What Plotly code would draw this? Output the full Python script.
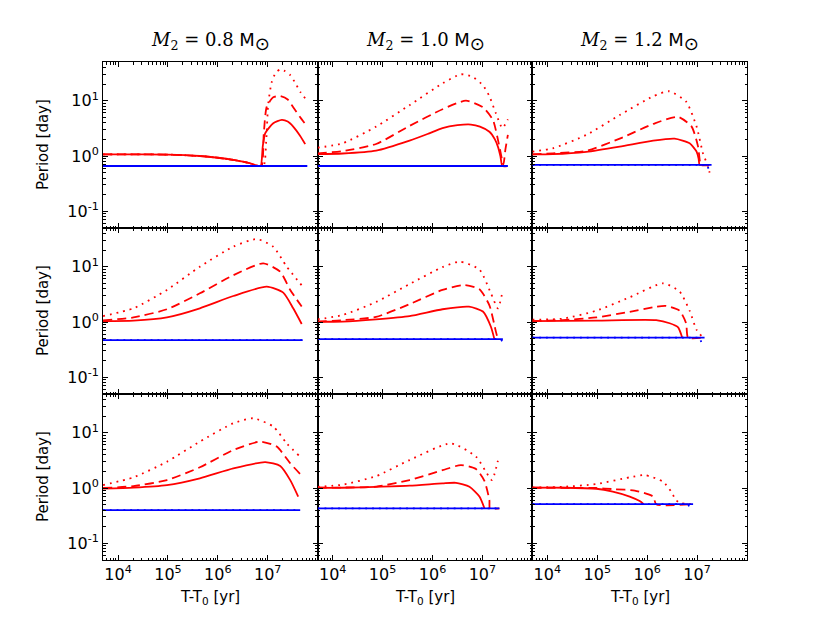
import numpy as np
import plotly.graph_objects as go
from plotly.subplots import make_subplots

# each curve: list of (log10(T-T0 [yr]), period [day])
masses = ["0.8", "1.0", "1.2"]
x_ticks = [1e4, 1e5, 1e6, 1e7]
x_labels = ["10<sup>4</sup>", "10<sup>5</sup>", "10<sup>6</sup>", "10<sup>7</sup>"]
y_ticks = [0.1, 1, 10]
y_labels = ["10<sup>-1</sup>", "10<sup>0</sup>", "10<sup>1</sup>"]

# top row
r1c1_solid = [(3.70, 1.07), (4.5, 1.07), (5.0, 1.06), (5.64, 1.0), (6.0, 0.93), (6.31, 0.85), (6.64, 0.74),
              (6.81, 0.66), (6.86, 0.66), (6.90, 1.5), (6.95, 2.6), (7.11, 3.9), (7.28, 4.5), (7.40, 4.2),
              (7.51, 3.4), (7.65, 2.3), (7.75, 1.64)]
r1c1_dash = [(3.70, 1.07), (4.5, 1.07), (5.0, 1.06), (5.64, 1.0), (6.0, 0.93), (6.31, 0.85), (6.64, 0.74),
             (6.81, 0.66), (6.88, 0.68), (6.92, 2.5), (6.98, 7.8), (7.11, 11.5), (7.25, 12.1), (7.40, 10.5),
             (7.51, 7.6), (7.65, 5.0), (7.78, 3.5)]
r1c1_dot = [(3.70, 1.07), (4.5, 1.07), (5.0, 1.06), (5.64, 1.0), (6.0, 0.93), (6.31, 0.85), (6.64, 0.74),
            (6.81, 0.66), (6.92, 0.68), (6.97, 1.95), (7.01, 8.9), (7.08, 21.8), (7.16, 32), (7.25, 36.8),
            (7.35, 34), (7.45, 29), (7.55, 21), (7.65, 14.5), (7.78, 10.2)]
r1c1_blue = [(3.70, 0.66), (7.79, 0.66)]
r1c1_tail = [(3.70, 0.66), (7.79, 0.66)]

r1c2_solid = [(3.70, 1.08), (4.20, 1.11), (4.87, 1.25), (5.54, 1.9), (5.9, 2.5), (6.20, 3.2), (6.5, 3.6),
              (6.77, 3.7), (6.95, 3.4), (7.14, 2.75), (7.25, 2.0), (7.31, 1.48), (7.36, 1.0), (7.40, 0.66),
              (7.50, 0.66)]
r1c2_dash = [(3.70, 1.12), (4.20, 1.23), (4.87, 1.65), (5.54, 3.5), (6.20, 7.0), (6.67, 10), (7.01, 7.6),
             (7.21, 4.5), (7.34, 1.48), (7.42, 0.7), (7.46, 1.3), (7.51, 2.4)]
r1c2_dot = [(3.70, 1.41), (4.20, 1.7), (4.87, 3.4), (5.54, 8.3), (6.20, 20.5), (6.57, 30), (6.8, 27),
            (7.01, 19), (7.14, 12), (7.27, 5.9), (7.40, 3.2), (7.51, 4.6)]
r1c2_blue = [(3.70, 0.66), (7.51, 0.66)]
r1c2_tail = [(3.70, 0.66), (7.51, 0.66)]

r1c3_solid = [(3.70, 1.07), (4.11, 1.08), (4.78, 1.19), (5.45, 1.48), (6.12, 1.9), (6.55, 2.06), (6.85, 1.7),
              (6.95, 1.35), (6.99, 1.2), (7.03, 0.9), (7.05, 0.69), (7.10, 0.69)]
r1c3_dash = [(3.70, 1.07), (4.11, 1.12), (4.78, 1.24), (5.45, 2.06), (6.12, 3.8), (6.62, 5.1), (6.89, 3.4),
             (7.02, 1.48), (7.08, 0.69), (7.25, 0.69)]
r1c3_dot = [(3.70, 1.2), (4.11, 1.38), (4.78, 2.4), (5.45, 5.5), (6.12, 12), (6.44, 14.8), (6.78, 9.6),
            (6.99, 3.4), (7.12, 1.1), (7.22, 0.65), (7.25, 0.5)]
r1c3_blue = [(3.70, 0.69), (7.29, 0.69)]
r1c3_tail = [(3.70, 0.69), (7.20, 0.69), (7.26, 0.5)]

# middle row
r2c1_solid = [(3.70, 1.04), (4.31, 1.06), (4.98, 1.21), (5.64, 1.77), (6.31, 2.95), (6.98, 4.35), (7.31, 3.4),
              (7.51, 1.77), (7.68, 0.92)]
r2c1_dash = [(3.70, 1.07), (4.31, 1.21), (4.98, 1.7), (5.64, 3.3), (6.31, 7.0), (6.91, 11.5), (7.25, 8.1),
             (7.45, 3.8), (7.68, 1.9)]
r2c1_dot = [(3.70, 1.28), (4.31, 1.77), (4.98, 3.8), (5.64, 10), (6.31, 23), (6.78, 31.5), (7.11, 23),
            (7.38, 10), (7.69, 4.5)]
r2c1_blue = [(3.70, 0.47), (7.70, 0.47)]
r2c1_tail = [(3.70, 0.47), (7.70, 0.47)]

r2c2_solid = [(3.70, 1.01), (4.20, 1.02), (4.87, 1.12), (5.54, 1.28), (6.20, 1.7), (6.73, 1.89), (7.01, 1.55),
              (7.17, 0.82), (7.24, 0.49)]
r2c2_dash = [(3.70, 1.01), (4.20, 1.08), (4.87, 1.24), (5.54, 2.1), (6.20, 3.8), (6.64, 4.65), (6.94, 3.9),
             (7.14, 2.0), (7.27, 0.67), (7.31, 0.49)]
r2c2_dot = [(3.70, 1.12), (4.20, 1.34), (4.87, 2.3), (5.54, 4.85), (6.20, 9.8), (6.54, 12.3), (6.94, 8.9),
            (7.17, 3.3), (7.31, 1.77), (7.41, 3.8)]
r2c2_blue = [(3.70, 0.49), (7.41, 0.49)]
r2c2_tail = [(3.70, 0.49), (7.36, 0.49), (7.41, 0.44)]

r2c3_solid = [(3.70, 1.04), (4.98, 1.06), (6.18, 1.08), (6.45, 0.95), (6.62, 0.8), (6.68, 0.6), (6.70, 0.52)]
r2c3_dash = [(3.70, 1.04), (4.31, 1.08), (4.98, 1.21), (5.65, 1.53), (6.18, 1.89), (6.38, 1.95), (6.65, 1.6),
             (6.78, 0.95), (6.82, 0.52), (7.12, 0.52)]
r2c3_dot = [(3.70, 1.1), (4.31, 1.15), (4.98, 1.6), (5.65, 2.8), (6.32, 5.0), (6.65, 3.55), (6.85, 1.6),
            (6.99, 0.72), (7.12, 0.52)]
r2c3_blue = [(3.70, 0.52), (7.15, 0.52)]
r2c3_tail = [(3.70, 0.52), (7.05, 0.52), (7.11, 0.38)]

# bottom row
r3c1_solid = [(3.70, 0.98), (4.31, 1.02), (4.98, 1.13), (5.64, 1.5), (6.31, 2.26), (6.95, 2.94), (7.25, 2.5),
              (7.45, 1.39), (7.61, 0.70)]
r3c1_dash = [(3.70, 1.0), (4.31, 1.08), (4.98, 1.39), (5.64, 2.37), (6.31, 4.85), (6.85, 6.9), (7.18, 5.6),
             (7.45, 2.8), (7.65, 1.79)]
r3c1_dot = [(3.70, 1.13), (4.31, 1.56), (4.98, 2.98), (5.64, 6.9), (6.31, 14.8), (6.71, 18.2), (7.11, 12.9),
            (7.38, 6.4), (7.63, 3.8)]
r3c1_blue = [(3.70, 0.40), (7.65, 0.40)]
r3c1_tail = [(3.70, 0.40), (7.65, 0.40)]

r3c2_solid = [(3.70, 1.01), (4.20, 1.01), (4.87, 1.05), (5.54, 1.1), (6.20, 1.21), (6.47, 1.24), (6.74, 1.05),
              (6.94, 0.70), (7.04, 0.43)]
r3c2_dash = [(3.70, 1.01), (4.20, 1.02), (4.87, 1.06), (5.54, 1.39), (6.20, 2.1), (6.57, 2.6), (6.87, 2.2),
             (7.04, 1.35), (7.14, 0.6), (7.15, 0.43), (7.34, 0.43)]
r3c2_dot = [(3.70, 1.05), (4.20, 1.15), (4.87, 1.64), (5.54, 3.2), (6.37, 6.4), (6.87, 3.7), (7.07, 1.97),
            (7.19, 1.39), (7.31, 3.1)]
r3c2_blue = [(3.70, 0.43), (7.34, 0.43)]
r3c2_tail = [(3.70, 0.43), (7.28, 0.43), (7.33, 0.36)]

r3c3_solid = [(3.70, 1.01), (4.31, 1.01), (4.98, 0.97), (5.31, 0.86), (5.65, 0.70), (5.85, 0.58), (5.93, 0.51)]
r3c3_dash = [(3.70, 1.01), (4.98, 1.0), (5.35, 0.95), (5.75, 0.9), (6.12, 0.70), (6.18, 0.51), (6.90, 0.51)]
r3c3_dot = [(3.70, 1.02), (4.31, 1.05), (4.98, 1.18), (5.65, 1.56), (5.95, 1.71), (6.32, 1.3), (6.48, 0.86),
            (6.58, 0.6), (6.68, 0.53), (6.90, 0.51)]
r3c3_blue = [(3.70, 0.51), (6.92, 0.51)]
r3c3_tail = [(3.70, 0.51), (6.82, 0.51), (6.87, 0.4)]

panels = {
    (1, 1): (r1c1_solid, r1c1_dash, r1c1_dot, r1c1_blue, r1c1_tail),
    (1, 2): (r1c2_solid, r1c2_dash, r1c2_dot, r1c2_blue, r1c2_tail),
    (1, 3): (r1c3_solid, r1c3_dash, r1c3_dot, r1c3_blue, r1c3_tail),
    (2, 1): (r2c1_solid, r2c1_dash, r2c1_dot, r2c1_blue, r2c1_tail),
    (2, 2): (r2c2_solid, r2c2_dash, r2c2_dot, r2c2_blue, r2c2_tail),
    (2, 3): (r2c3_solid, r2c3_dash, r2c3_dot, r2c3_blue, r2c3_tail),
    (3, 1): (r3c1_solid, r3c1_dash, r3c1_dot, r3c1_blue, r3c1_tail),
    (3, 2): (r3c2_solid, r3c2_dash, r3c2_dot, r3c2_blue, r3c2_tail),
    (3, 3): (r3c3_solid, r3c3_dash, r3c3_dot, r3c3_blue, r3c3_tail),
}

W, H = 830, 623
# the page puts the figure 8px in from the top-left corner
OFF = 8
L, R, T, B = 103 - OFF, 83 + OFF, 62 - OFF, 63 + OFF
PW, PH = W - L - R, H - T - B

fig = make_subplots(rows=3, cols=3, shared_xaxes=True, shared_yaxes=True,
                    horizontal_spacing=0, vertical_spacing=0)


def xy(pts):
    a = np.array(pts, dtype=float)
    return 10 ** a[:, 0], a[:, 1]


styles = [("#ff0000", "solid", "spline"), ("#ff0000", "9px,5px", "spline"), ("#ff0000", "1.8px,5px", "spline"),
          ("#0000ff", "solid", "linear"), ("#0000ff", "1.8px,5px", "linear")]
for (r, c), curves in panels.items():
    for pts, (col, dash, shape) in zip(curves, styles):
        x, y = xy(pts)
        fig.add_trace(go.Scatter(x=x, y=y, mode="lines", showlegend=False,
                                 line=dict(color=col, width=1.8, dash=dash,
                                           shape=shape, smoothing=0.6)), row=r, col=c)

minor_x = [m * 10 ** k for k in range(3, 8) for m in range(2, 10)]
minor_y = [m * 10 ** k for k in range(-2, 2) for m in range(2, 10)]

axis_common = dict(showgrid=False, zeroline=False, showline=True, linecolor="black", linewidth=1,
                   mirror="allticks", ticks="inside", ticklen=5, tickwidth=1, tickcolor="black",
                   tickfont=dict(family="DejaVu Sans", size=16, color="black"))
fig.update_xaxes(type="log", range=[np.log10(5e3), 8], tickmode="array", tickvals=x_ticks, ticktext=x_labels,
                 minor=dict(ticks="inside", ticklen=2.5, tickwidth=0.8, tickcolor="black",
                            tickmode="array", tickvals=minor_x),
                 **axis_common)
fig.update_yaxes(type="log", range=[np.log10(0.05), np.log10(50)], tickmode="array", tickvals=y_ticks,
                 ticktext=y_labels,
                 minor=dict(ticks="inside", ticklen=2.5, tickwidth=0.8, tickcolor="black",
                            tickmode="array", tickvals=minor_y),
                 **axis_common)

fig.update_layout(width=W, height=H, margin=dict(l=L, r=R, t=T, b=B),
                  plot_bgcolor="white", paper_bgcolor="white")


def px(xp):
    return (xp - OFF - L) / PW


def py(yp):
    return (H - B - (yp - OFF)) / PH


for i, m in enumerate(masses):
    cx = 103 + PW / 3.0 * (i + 0.5)
    fig.add_annotation(
        x=px(cx), y=py(56), xref="paper", yref="paper", xanchor="center", yanchor="bottom",
        showarrow=False,
        text=('<span style="font-family:DejaVu Serif"><i>M</i><sub>2</sub> = ' + m + ' </span>'
              'M<sub><span style="font-size:18px">⊙</span></sub>'),
        font=dict(family="DejaVu Sans", size=18, color="black"))
    fig.add_annotation(
        x=px(cx), y=py(597), xref="paper", yref="paper", xanchor="center", yanchor="middle",
        showarrow=False, text="T-T<sub>0</sub> [yr]",
        font=dict(family="DejaVu Sans", size=15, color="black"))
    cy = 62 + PH / 3.0 * (i + 0.5)
    fig.add_annotation(
        x=px(43), y=py(cy), xref="paper", yref="paper", xanchor="center", yanchor="middle",
        showarrow=False, text="Period [day]", textangle=-90,
        font=dict(family="DejaVu Sans", size=15, color="black"))

fig.write_html("out.html")
